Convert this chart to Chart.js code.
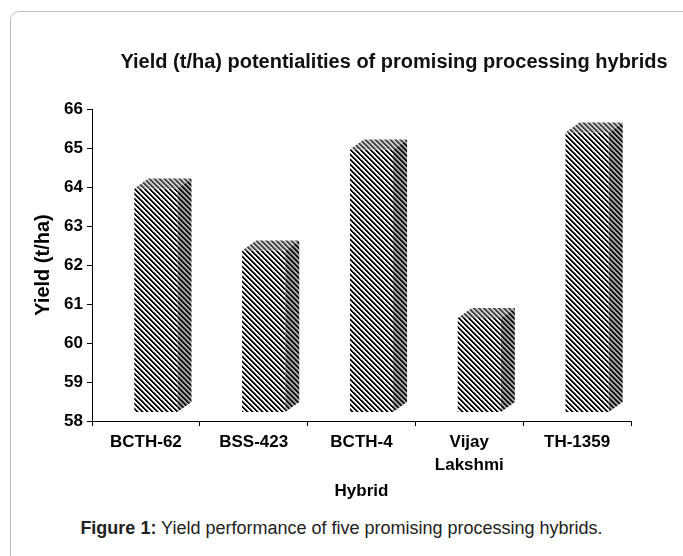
<!DOCTYPE html>
<html>
<head>
<meta charset="utf-8">
<script src="https://cdn.jsdelivr.net/npm/chart.js@4.4.1/dist/chart.umd.min.js"></script>
<style>
  body { margin: 0; background: #fff; }
  #wrap { position: relative; width: 683px; height: 556px; overflow: hidden; font-family: Arial, "Liberation Sans", sans-serif; }
  #frame { position: absolute; left: 10px; top: 11px; width: 700px; height: 600px; border: 1px solid #bdbdbd; border-radius: 9px; }
  #chart { position: absolute; left: 0; top: 0; }
  #caption { position: absolute; left: 0; top: 518px; width: 683px; text-align: center; font-size: 18px; color: #222; }
</style>
</head>
<body>
<div id="wrap">
  <div id="frame"></div>
  <canvas id="chart" width="683" height="510"></canvas>
  <div id="caption"><b>Figure 1:</b> Yield performance of five promising processing hybrids.</div>
</div>
<script>
const titleText = 'Yield (t/ha) potentialities of promising processing hybrids';
const hybrids = ['BCTH-62', 'BSS-423', 'BCTH-4', ['Vijay', 'Lakshmi'], 'TH-1359'];
const yieldValues = [63.96, 62.37, 64.96, 60.64, 65.40];
const yMin = 58, yMax = 66, yStep = 1;

Chart.defaults.font.family = 'Arial, "Liberation Sans", sans-serif';
Chart.defaults.color = '#000';

// 5x5 tile of diagonal stripes, running down to the right
function stripes(dark, mid, light) {
    const c = document.createElement('canvas');
    c.width = 5; c.height = 5;
    const g = c.getContext('2d');
    g.fillStyle = light;
    g.fillRect(0, 0, 5, 5);
    for (let i = 0; i < 5; i++) {
        g.fillStyle = dark;
        g.fillRect(i, i, 1, 1);
        g.fillRect((i + 1) % 5, i, 1, 1);
        g.fillStyle = mid;
        g.fillRect((i + 2) % 5, i, 1, 1);
    }
    return g.createPattern(c, 'repeat');
}

const frontFill = stripes('#000', '#8a8a8a', '#fff');
const sideFill = stripes('#111', '#555', '#a8a8a8');
const topFill = stripes('#444', '#888', '#cfcfcf');

const dx = 14, dy = 10, shift = 10;

// fake excel style 3d: side + top faces drawn off each bar
const box3d = {
    id: 'box3d',
    afterDatasetsUpdate(chart) {
        chart.getDatasetMeta(0).data.forEach(bar => { bar.x += shift; });
    },
    afterDatasetsDraw(chart) {
        const ctx = chart.ctx;
        chart.getDatasetMeta(0).data.forEach(bar => {
            const l = bar.x - bar.width / 2, r = bar.x + bar.width / 2;
            const t = bar.y, b = bar.base;
            ctx.save();
            ctx.fillStyle = sideFill;
            ctx.beginPath();
            ctx.moveTo(r, t);
            ctx.lineTo(r + dx, t - dy);
            ctx.lineTo(r + dx, b - dy);
            ctx.lineTo(r, b);
            ctx.closePath();
            ctx.fill();
            ctx.fillStyle = topFill;
            ctx.beginPath();
            ctx.moveTo(l, t);
            ctx.lineTo(l + dx, t - dy);
            ctx.lineTo(r + dx, t - dy);
            ctx.lineTo(r, t);
            ctx.closePath();
            ctx.fill();
            ctx.restore();
        });
    }
};

const chartTitle = {
    id: 'chartTitle',
    afterDraw(chart) {
        const ctx = chart.ctx;
        ctx.save();
        ctx.font = 'bold 20px Arial, "Liberation Sans", sans-serif';
        ctx.fillStyle = '#111';
        ctx.textAlign = 'center';
        ctx.textBaseline = 'middle';
        ctx.fillText(titleText, 394, 62);
        ctx.restore();
    }
};

const ctx = document.getElementById('chart').getContext('2d');
const yieldChart = new Chart(ctx, {
    type: 'bar',
    data: {
        labels: hybrids,
        datasets: [{
            label: 'Yield (t/ha)',
            data: yieldValues,
            base: 58.23,
            backgroundColor: frontFill,
            borderWidth: 0,
            categoryPercentage: 1,
            barPercentage: 0.4
        }]
    },
    options: {
        responsive: false,
        animation: false,
        devicePixelRatio: 1,
        layout: { padding: { left: 0, right: 52, top: 109, bottom: 0 } },
        plugins: {
            legend: { display: false },
            tooltip: { enabled: false }
        },
        scales: {
            x: {
                grid: { drawOnChartArea: false, color: '#000', tickLength: 5, offset: true },
                border: { color: '#000', width: 1 },
                ticks: { font: { size: 17, weight: 'bold', lineHeight: 1.35 }, padding: 5, maxRotation: 0 },
                title: { display: true, text: 'Hybrid', font: { size: 17, weight: 'bold' }, padding: { top: 0, bottom: 8 } },
                afterFit(scale) { scale.height = 89; }
            },
            y: {
                min: yMin,
                max: yMax,
                grid: { drawOnChartArea: false, color: '#000', tickLength: 5 },
                border: { color: '#000', width: 1 },
                ticks: { stepSize: yStep, font: { size: 17, weight: 'bold' }, padding: 4 },
                title: { display: true, text: 'Yield (t/ha)', font: { size: 20, weight: 'bold' }, padding: { top: 31, bottom: 0 } },
                afterFit(scale) { scale.width = 92; }
            }
        }
    },
    plugins: [box3d, chartTitle]
});
</script>
</body>
</html>
